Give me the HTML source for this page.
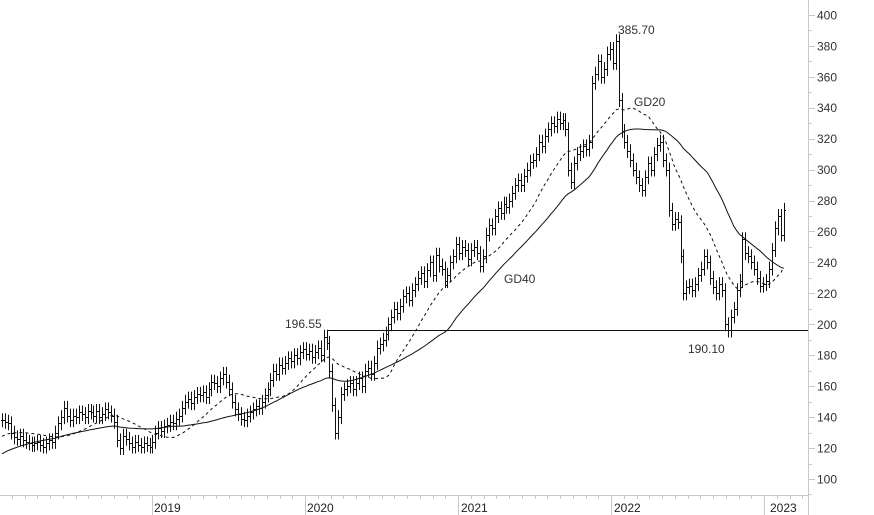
<!DOCTYPE html>
<html><head><meta charset="utf-8"><style>
html,body{margin:0;padding:0;background:#fff;}
svg{display:block;font-family:"Liberation Sans","DejaVu Sans",sans-serif;}
</style></head><body>
<svg id="chart" width="874" height="515" viewBox="0 0 874 515" xmlns="http://www.w3.org/2000/svg">
<g id="grid"></g><g id="bars"></g><g id="mas"></g><g id="axes"></g><g id="ann"></g>
</svg>
<script>
const priorCloses = [
96,98,97,99,100,101,100,102,103,104,
105,104,106,107,108,110,112,114,116,118,
120,122,121,123,124,126,125,127,128,126,
127,128,129,127,130,132,131,133,135];
const closes = [
138,137,136,130,127,126,128,125,124,123,
122,123,124,122,121,123,125,124,130,136,
140,146,141,138,141,140,143,142,140,144,
143,141,144,140,142,145,143,141,137,125,
120,128,126,123,121,124,122,121,123,122,
121,124,130,133,131,134,135,137,136,139,
141,146,150,152,149,153,155,154,156,153,
158,163,162,160,165,168,163,158,150,145,
142,139,138,141,143,145,147,146,150,154,
158,164,170,168,174,172,175,178,176,180,
178,182,184,181,183,179,182,185,180,192,
188,170,148,130,140,155,158,160,162,158,
162,165,160,170,172,168,175,185,187,190,
194,200,205,210,207,212,218,220,216,222,
226,230,233,228,235,240,232,245,238,236,
228,232,240,244,252,246,250,248,242,248,
250,246,238,244,258,264,262,270,275,272,
278,276,280,285,290,293,290,296,300,305,
306,310,318,315,322,326,330,328,333,330,
332,326,300,292,304,310,312,315,313,318,
356,362,370,360,365,375,378,369,383,345,
325,318,312,306,300,295,290,287,295,304,
300,310,316,318,306,300,274,265,268,266,
244,220,224,225,222,226,232,236,244,240,
230,224,220,226,222,200,196,205,210,222,
228,255,246,244,240,236,230,225,226,228,
236,248,262,270,258,274];
const yTicks = [100,120,140,160,180,200,220,240,260,280,300,320,340,360,380,400];
const years = ["2019","2020","2021","2022","2023"];
const yearX = [152,305,459,612,768];
const levelLine = 196.55, highVal = "385.70", lowVal = "190.10";

const NS="http://www.w3.org/2000/svg";
function mk(t,a,p){const e=document.createElementNS(NS,t);for(const k in a)e.setAttribute(k,a[k]);p.appendChild(e);return e;}
const y = v => 479 - (v-100)*1.547;
const x = i => 2 + i*2.95;
const bars=document.getElementById('bars');
closes.forEach((c,i)=>{
  const o = i? closes[i-1] : c;
  const hi=Math.max(o,c)+4.5, lo=Math.min(o,c)-4.5;
  const g=mk('g',{stroke:'#111','stroke-width':1},bars);
  
  
  const xx=Math.round(x(i))+0.5;
  mk('line',{x1:xx,x2:xx,y1:y(hi),y2:y(lo)},g);
  mk('line',{x1:xx-1.5,x2:xx,y1:Math.round(y(o))+0.5,y2:Math.round(y(o))+0.5},g);
  mk('line',{x1:xx,x2:xx+1.5,y1:Math.round(y(c))+0.5,y2:Math.round(y(c))+0.5},g);
});
const all = priorCloses.concat(closes), off = priorCloses.length;
function sma(n){return closes.map((_,j)=>{const i=j+off;const s=Math.max(0,i-n+1);let t=0;for(let k=s;k<=i;k++)t+=all[k];return t/(i-s+1);});}
const mas=document.getElementById('mas');
const m20=sma(20), m40=sma(40);
const p20=mk('path',{d:m20.map((v,i)=>(i?'L':'M')+x(i).toFixed(1)+' '+y(v).toFixed(1)).join(''),fill:'none',stroke:'#111','stroke-width':1,'stroke-dasharray':'3,3'},mas);


const p40=mk('path',{d:m40.map((v,i)=>(i?'L':'M')+x(i).toFixed(1)+' '+y(v).toFixed(1)).join(''),fill:'none',stroke:'#111','stroke-width':1},mas);



const ax=document.getElementById('axes');
const ya=mk('line',{x1:808.5,x2:808.5,y1:0,y2:515,stroke:'#c8c8c8'},ax);


const xa=mk('line',{x1:0,x2:808,y1:495.5,y2:495.5,stroke:'#c8c8c8'},ax);


for(let v=90;v<=410;v+=10){const yy=Math.round(y(v))+0.5;mk('line',{x1:808,x2:v%20===0?815:812,y1:yy,y2:yy,stroke:'#c8c8c8'},ax);}
yTicks.forEach(v=>{const t=mk('text',{x:817,y:y(v)+4.5,'font-size':12,fill:'#333'},ax);t.textContent=v;
 
 });
for(let m=-12;m<=60;m++){const xx=Math.round(152+m*12.75)+0.5;if(xx<0||xx>806)continue;
 const major=m%12===0;mk('line',{x1:xx,x2:xx,y1:495,y2:major?515:499,stroke:'#c8c8c8'},ax);}
years.forEach((s,i)=>{const t=mk('text',{x:yearX[i]+2,y:512,'font-size':12,fill:'#222'},ax);t.textContent=s;
 
 });

const an=document.getElementById('ann');
const ll=mk('line',{x1:327,x2:808,y1:Math.round(y(levelLine))+0.5,y2:Math.round(y(levelLine))+0.5,stroke:'#111'},an);


function lab(s,xx,yy,n){const t=mk('text',{x:xx,y:yy,'font-size':12,fill:'#333'},an);t.textContent=s;
 
 }
lab(levelLine.toFixed(2),285,328,'level-label');
lab(highVal,618,34,'high-label');
lab(lowVal,688,353,'low-label');
lab('GD20',634,106,'gd20-label');
lab('GD40',504,283,'gd40-label');
</script>
</body></html>
